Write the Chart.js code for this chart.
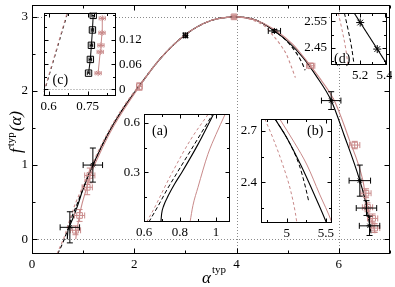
<!DOCTYPE html>
<html>
<head>
<meta charset="utf-8">
<script src="https://cdn.jsdelivr.net/npm/chart.js@4/dist/chart.umd.min.js"></script>
<style>
html, body { margin: 0; padding: 0; background: #fff; }
#wrap { position: relative; width: 395px; height: 287px; overflow: hidden; background: #fff; }
#wrap canvas { position: absolute; }
</style>
</head>
<body>
<div id="wrap">
  <canvas id="main" width="395" height="287" style="left:0;top:0"></canvas>
</div>
<script>
// ---- main panel data (alpha, f) ----
const blackSolidA = [0.69, 0.70, 0.75, 0.81, 0.90, 0.985, 1.19, 1.5, 1.8, 2.1, 2.5, 3.0, 3.5, 4.0, 4.4, 4.74, 5.0, 5.3, 5.55, 5.85, 6.1, 6.41, 6.54, 6.6, 6.63];
const blackSolidF = [0.0, 0.1, 0.2, 0.3, 0.47, 0.65, 1.0, 1.44, 1.78, 2.07, 2.43, 2.76, 2.95, 3.0, 2.95, 2.81, 2.67, 2.45, 2.21, 1.87, 1.41, 0.79, 0.45, 0.2, 0.08];
const blackDashA = [0.5, 0.57, 0.63, 0.7, 0.78, 0.88, 0.98, 1.19, 1.5, 1.8, 2.1, 2.5, 3.0, 3.5, 4.0, 4.4, 4.74, 5.0, 5.16, 5.28, 5.34];
const blackDashF = [-0.2, -0.1, 0.0, 0.13, 0.3, 0.47, 0.65, 1.0, 1.44, 1.78, 2.07, 2.43, 2.76, 2.95, 3.0, 2.95, 2.81, 2.66, 2.52, 2.38, 2.28];
const pinkDashA = [0.49, 0.55, 0.615, 0.665, 0.71, 0.757, 0.86, 0.955, 1.17, 1.5, 1.8, 2.1, 2.5, 3.0, 3.5, 4.0, 4.3, 4.56, 4.7, 4.85, 4.97, 5.07, 5.15];
const pinkDashF = [-0.2, -0.1, 0.0, 0.1, 0.2, 0.3, 0.5, 0.65, 1.0, 1.46, 1.8, 2.08, 2.43, 2.76, 2.95, 3.0, 2.96, 2.87, 2.76, 2.63, 2.5, 2.33, 2.18];
const pinkSolidA = [0.856, 0.872, 0.9, 0.955, 1.05, 1.13, 1.3, 1.6, 2.1, 2.5, 3.0, 3.5, 4.0, 4.4, 4.8, 5.1, 5.4, 5.65, 5.91, 6.2, 6.47, 6.56, 6.66, 6.71];
const pinkSolidF = [0.0, 0.1, 0.21, 0.41, 0.65, 0.84, 1.12, 1.53, 2.06, 2.43, 2.76, 2.95, 3.0, 2.95, 2.8, 2.63, 2.38, 2.15, 1.87, 1.35, 0.79, 0.43, 0.2, 0.08];

const blackPtA = [0.74, 1.19, 3.0, 4.74, 5.85, 6.41, 6.54, 6.6];
const blackPtF = [0.16, 1.0, 2.75, 2.81, 1.87, 0.79, 0.42, 0.18];
const blackErrA = [0.19, 0.19, 0.04, 0.12, 0.19, 0.21, 0.2, 0.2];
const blackErrF = [0.21, 0.23, 0.03, 0.02, 0.12, 0.21, 0.1, 0.13];
const pinkPtA = [0.85, 0.93, 1.08, 1.13, 2.1, 3.95, 5.45, 6.31, 6.53, 6.56, 6.66, 6.7];
const pinkPtF = [0.12, 0.32, 0.7, 0.86, 2.06, 3.0, 2.34, 1.27, 0.62, 0.43, 0.28, 0.15];
const pinkErrA = [0.1, 0.1, 0.1, 0.1, 0.05, 0.02, 0.08, 0.1, 0.1, 0.1, 0.1, 0.1];
const pinkErrF = [0.06, 0.08, 0.1, 0.1, 0.05, 0.02, 0.03, 0.05, 0.06, 0.06, 0.06, 0.06];

const mainXTicks = [0, 1, 2, 3, 4, 5, 6, 7];
const mainXLabels = [0, 2, 4, 6];
const mainYTicks = [0, 0.5, 1, 1.5, 2, 2.5, 3];
const mainYLabels = [0, 1, 2, 3];
const mainRefX = [4, 6];
const mainRefY = [0, 3];

// ---- inset (a) ----
const aBlackSolidA = [0.694, 0.698, 0.71, 0.735, 0.77, 0.81, 0.9, 0.985];
const aBlackSolidF = [0, 0.05, 0.1, 0.16, 0.23, 0.3, 0.47, 0.65];
const aBlackDashA = [0.627, 0.68, 0.73, 0.785, 0.88, 0.98];
const aBlackDashF = [0, 0.1, 0.2, 0.3, 0.47, 0.65];
const aPinkDashA = [0.615, 0.665, 0.71, 0.757, 0.86, 0.955];
const aPinkDashF = [0, 0.1, 0.2, 0.3, 0.5, 0.65];
const aPinkSolidA = [0.856, 0.872, 0.9, 0.955, 1.0, 1.05];
const aPinkSolidF = [0, 0.1, 0.21, 0.41, 0.53, 0.65];
const aXTicks = [0.6, 0.7, 0.8, 0.9, 1.0];
const aXLabels = [0.6, 0.8, 1];
const aYTicks = [0.15, 0.3, 0.45, 0.6];
const aYLabels = [0.3, 0.6];

// ---- inset (b) ----
const bPinkDashA = [4.72, 4.83, 4.95, 5.05, 5.11, 5.13];
const bPinkDashF = [2.77, 2.65, 2.5, 2.35, 2.22, 2.16];
const bBlackSolidA = [4.85, 5.0, 5.18, 5.35, 5.51, 5.55];
const bBlackSolidF = [2.77, 2.66, 2.5, 2.33, 2.16, 2.11];
const bBlackDashA = [4.85, 5.0, 5.16, 5.24, 5.28];
const bBlackDashF = [2.77, 2.66, 2.5, 2.37, 2.29];
const bPinkSolidA = [4.91, 5.1, 5.26, 5.42, 5.58, 5.6];
const bPinkSolidF = [2.77, 2.63, 2.5, 2.33, 2.16, 2.13];
const bXTicks = [4.75, 5, 5.25, 5.5];
const bXLabels = [5, 5.5];
const bYTicks = [2.25, 2.4, 2.55, 2.7];
const bYLabels = [2.4, 2.7];

// ---- inset (c) ----
const cBlackDashA = [0.576, 0.676];
const cBlackDashF = [-0.02, 0.19];
const cPinkDashA = [0.575, 0.674];
const cPinkDashF = [-0.02, 0.19];
const cBlackSqA = [0.754, 0.761, 0.765, 0.769, 0.772];
const cBlackSqF = [0.039, 0.072, 0.106, 0.143, 0.178];
const cBlackSqErr = [0.005, 0.005, 0.005, 0.005, 0.005];
const cPinkStarA = [0.791, 0.799, 0.802, 0.806, 0.807];
const cPinkStarF = [0.039, 0.09, 0.106, 0.136, 0.171];
const cPinkStarErr = [0.012, 0.012, 0.012, 0.012, 0.012];
const cXTicks = [0.6, 0.675, 0.75, 0.825];
const cXLabels = [0.6, 0.75];
const cYTicks = [0, 0.03, 0.06, 0.09, 0.12, 0.15, 0.18];
const cYLabels = [0, 0.06, 0.12];

// ---- inset (d) ----
const dPinkDashA = [5.02, 5.05, 5.08, 5.10];
const dPinkDashF = [2.582, 2.52, 2.45, 2.386];
const dBlackDashA = [5.07, 5.1, 5.13, 5.15];
const dBlackDashF = [2.582, 2.52, 2.45, 2.386];
const dBlackSolidA = [5.15, 5.42];
const dBlackSolidF = [2.582, 2.389];
const dStarA = [5.2, 5.34];
const dStarF = [2.546, 2.446];
const dXTicks = [5.0, 5.1, 5.2, 5.3, 5.4];
const dXLabels = [5.2, 5.4];
const dYTicks = [2.4, 2.45, 2.5, 2.55];
const dYLabels = [2.45, 2.55];

const SERIF = "'Liberation Serif', 'DejaVu Serif', serif";
const PINK = '#c98a8a';
const NONE = 'rgba(0,0,0,0)';

const pts = (xs, ys) => xs.map((x, i) => ({ x: x, y: ys[i] }));

function curve(xs, ys, color, dash, width, straight) {
    return {
        data: pts(xs, ys), showLine: true, borderColor: color, borderWidth: width || 1.1,
        borderDash: dash || [], pointRadius: 0, fill: false, clip: 0,
        cubicInterpolationMode: straight ? 'default' : 'monotone', tension: 0
    };
}

function marks(xs, ys, ex, ey, color, style, r) {
    return {
        data: pts(xs, ys), showLine: false, pointStyle: style, pointRadius: r,
        borderColor: color, backgroundColor: NONE,
        pointBorderColor: color, pointBackgroundColor: NONE, pointBorderWidth: 1,
        errX: ex, errY: ey, clip: 0
    };
}

function axis(pos, min, max, ticks, labels, size, pad) {
    return {
        type: 'linear', position: pos, min: min, max: max, bounds: 'data',
        grid: { display: false, drawTicks: false },
        border: { display: false },
        afterBuildTicks: s => { s.ticks = ticks.map(v => ({ value: v })); },
        ticks: {
            autoSkip: false, maxRotation: 0, padding: pad, color: '#000',
            font: { family: SERIF, size: 13 },
            callback: v => {
                const l = labels.find(t => Math.abs(t - v) < 1e-9);
                return l === undefined ? '' : String(l);
            }
        },
        afterFit: s => {
            if (s.isHorizontal()) s.height = size; else s.width = size;
            s.paddingLeft = s.paddingRight = s.paddingTop = s.paddingBottom = 0;
        }
    };
}

// Rahmen, Ticks nach innen, Fehlerbalken, gepunktete Linien
const deco = {
    id: 'deco',
    beforeDraw(chart) {
        const a = chart.chartArea, ctx = chart.ctx;
        ctx.save();
        ctx.fillStyle = '#fff';
        ctx.fillRect(a.left, a.top, a.right - a.left, a.bottom - a.top);
        ctx.restore();
    },
    beforeDatasetsDraw(chart, args, o) {
        const { ctx, chartArea: a, scales } = chart;
        ctx.save();
        ctx.strokeStyle = '#8a8a8a';
        ctx.lineWidth = 1;
        ctx.setLineDash([1, 2]);
        (o.refX || []).forEach(v => {
            const p = Math.round(scales.x.getPixelForValue(v)) + 0.5;
            ctx.beginPath(); ctx.moveTo(p, a.top); ctx.lineTo(p, a.bottom); ctx.stroke();
        });
        (o.refY || []).forEach(v => {
            const p = Math.round(scales.y.getPixelForValue(v)) + 0.5;
            ctx.beginPath(); ctx.moveTo(a.left, p); ctx.lineTo(a.right, p); ctx.stroke();
        });
        ctx.restore();
    },
    afterDatasetsDraw(chart, args, o) {
        const { ctx, chartArea: a, scales: { x, y } } = chart;
        const seg = (x1, y1, x2, y2) => { ctx.beginPath(); ctx.moveTo(x1, y1); ctx.lineTo(x2, y2); ctx.stroke(); };
        const cap = o.cap || 3;

        ctx.save();
        ctx.beginPath();
        ctx.rect(a.left, a.top, a.right - a.left, a.bottom - a.top);
        ctx.clip();
        ctx.lineWidth = 1;
        chart.data.datasets.forEach(ds => {
            if (!ds.errX && !ds.errY) return;
            ctx.strokeStyle = ds.borderColor;
            ds.data.forEach((p, i) => {
                const px = x.getPixelForValue(p.x), py = y.getPixelForValue(p.y);
                if (ds.errX) {
                    const l = x.getPixelForValue(p.x - ds.errX[i]), r = x.getPixelForValue(p.x + ds.errX[i]);
                    seg(l, py, r, py); seg(l, py - cap, l, py + cap); seg(r, py - cap, r, py + cap);
                }
                if (ds.errY) {
                    const t = y.getPixelForValue(p.y + ds.errY[i]), b = y.getPixelForValue(p.y - ds.errY[i]);
                    seg(px, t, px, b); seg(px - cap, t, px + cap, t); seg(px - cap, b, px + cap, b);
                }
            });
        });
        ctx.restore();

        ctx.save();
        ctx.strokeStyle = '#000';
        ctx.lineWidth = 1;
        const L = Math.round(a.left) + 0.5, R = Math.round(a.right) - 0.5;
        const T = Math.round(a.top) + 0.5, B = Math.round(a.bottom) - 0.5;
        ctx.strokeRect(L, T, R - L, B - T);
        x.ticks.forEach(t => {
            const p = Math.round(x.getPixelForValue(t.value)) + 0.5;
            const len = t.label ? o.major : o.minor;
            seg(p, B, p, B - len); seg(p, T, p, T + len);
        });
        y.ticks.forEach(t => {
            const p = Math.round(y.getPixelForValue(t.value)) + 0.5;
            const len = t.label ? o.major : o.minor;
            seg(L, p, L + len, p); seg(R, p, R - len, p);
        });
        if (o.tag) {
            ctx.fillStyle = '#000';
            ctx.font = '14px ' + SERIF;
            ctx.textBaseline = 'alphabetic';
            ctx.fillText(o.tag, a.left + o.tagPos[0], a.top + o.tagPos[1]);
        }
        ctx.restore();
    }
};

// Achsentitel des Hauptplots
const titles = {
    id: 'titles',
    afterDraw(chart) {
        const ctx = chart.ctx;
        ctx.save();
        ctx.fillStyle = '#000';
        ctx.textBaseline = 'alphabetic';
        ctx.font = 'italic 17px ' + SERIF;
        ctx.fillText('α', 202, 283);
        ctx.font = '11px ' + SERIF;
        ctx.fillText('typ', 212, 273);

        ctx.translate(21, 153);
        ctx.rotate(-Math.PI / 2);
        ctx.font = 'italic 17px ' + SERIF;
        ctx.fillText('f', 0, 0);
        let w = ctx.measureText('f').width + 2;
        ctx.font = '11px ' + SERIF;
        ctx.fillText('typ', w, -7);
        w += ctx.measureText('typ').width + 1;
        ctx.font = 'italic 17px ' + SERIF;
        ctx.fillText('(α)', w, 0);
        ctx.restore();
    }
};

function baseOptions(padding, scales, deco) {
    return {
        responsive: false, animation: false,
        layout: { padding: padding },
        scales: scales,
        plugins: { legend: { display: false }, tooltip: { enabled: false }, deco: deco }
    };
}

// Hauptdiagramm
new Chart(document.getElementById('main'), {
    type: 'scatter',
    data: {
        datasets: [
            curve(pinkSolidA, pinkSolidF, PINK, [], 1.1),
            curve(pinkDashA, pinkDashF, PINK, [3, 2.5], 1.1),
            curve(blackDashA, blackDashF, '#000', [4, 2.5], 1.1),
            curve(blackSolidA, blackSolidF, '#000', [], 1.15),
            marks(pinkPtA, pinkPtF, pinkErrA, pinkErrF, PINK, 'rect', 4),
            marks(blackPtA, blackPtF, blackErrA, blackErrF, '#000', 'star', 3)
        ]
    },
    options: baseOptions({ left: 0, top: 3, right: 2, bottom: 0 }, {
        x: axis('bottom', 0, 7, mainXTicks, mainXLabels, 33, 3),
        y: axis('left', -0.2, 3.16, mainYTicks, mainYLabels, 32, 4)
    }, { refX: mainRefX, refY: mainRefY, major: 5, minor: 3, cap: 3 }),
    plugins: [deco, titles]
});

function inset(box, m, yRight, scales, datasets, extra) {
    const cv = document.createElement('canvas');
    cv.width = m.l + (box.r - box.l) + m.r;
    cv.height = m.t + (box.b - box.t) + m.b;
    cv.style.left = (box.l - m.l) + 'px';
    cv.style.top = (box.t - m.t) + 'px';
    document.getElementById('wrap').appendChild(cv);
    const padding = yRight ? { left: m.l, top: m.t, right: 0, bottom: 0 } : { left: 0, top: m.t, right: m.r, bottom: 0 };
    new Chart(cv, {
        type: 'scatter',
        data: { datasets: datasets },
        options: baseOptions(padding, scales, Object.assign({ major: 4, minor: 2.5, cap: 2 }, extra)),
        plugins: [deco]
    });
}

// (a)
inset({ l: 144, t: 114, r: 230, b: 222 }, { l: 26, t: 2, r: 4, b: 18 }, false, {
    x: axis('bottom', 0.6, 1.078, aXTicks, aXLabels, 18, 3),
    y: axis('left', 0, 0.654, aYTicks, aYLabels, 26, 4)
}, [
    curve(aPinkSolidA, aPinkSolidF, PINK, [], 1.0),
    curve(aPinkDashA, aPinkDashF, PINK, [3, 2.5], 1.0),
    curve(aBlackDashA, aBlackDashF, '#000', [4, 2.5], 1.0),
    curve(aBlackSolidA, aBlackSolidF, '#000', [], 1.1)
], { tag: '(a)', tagPos: [8, 21] });

// (b)
inset({ l: 261, t: 119, r: 332, b: 223 }, { l: 26, t: 2, r: 4, b: 18 }, false, {
    x: axis('bottom', 4.67, 5.58, bXTicks, bXLabels, 18, 3),
    y: axis('left', 2.16, 2.77, bYTicks, bYLabels, 26, 4)
}, [
    curve(bPinkSolidA, bPinkSolidF, PINK, [], 1.0),
    curve(bPinkDashA, bPinkDashF, PINK, [3, 2.5], 1.0),
    curve(bBlackDashA, bBlackDashF, '#000', [4, 2.5], 1.0),
    curve(bBlackSolidA, bBlackSolidF, '#000', [], 1.1)
], { tag: '(b)', tagPos: [46, 16] });

// (c)
inset({ l: 42, t: 9, r: 116, b: 96 }, { l: 4, t: 2, r: 26, b: 18 }, true, {
    x: axis('bottom', 0.58, 0.86, cXTicks, cXLabels, 18, 3),
    y: axis('right', -0.016, 0.185, cYTicks, cYLabels, 26, 3)
}, [
    curve(cPinkDashA, cPinkDashF, PINK, [3, 3], 1.0, true),
    curve(cBlackDashA, cBlackDashF, '#000', [3, 3], 1.0, true),
    curve(cPinkStarA, cPinkStarF, PINK, [], 1.0, true),
    marks(cPinkStarA, cPinkStarF, cPinkStarErr, null, PINK, 'star', 3),
    curve(cBlackSqA, cBlackSqF, '#000', [], 1.0, true),
    marks(cBlackSqA, cBlackSqF, cBlackSqErr, null, '#000', 'rect', 4.5)
], { refY: [0], tag: '(c)', tagPos: [9, 71] });

// (d)
inset({ l: 331, t: 10, r: 388, b: 65 }, { l: 30, t: 2, r: 4, b: 18 }, false, {
    x: axis('bottom', 4.96, 5.42, dXTicks, dXLabels, 18, 3),
    y: axis('left', 2.386, 2.582, dYTicks, dYLabels, 30, 4)
}, [
    curve(dPinkDashA, dPinkDashF, PINK, [3, 2.5], 1.0),
    curve(dBlackDashA, dBlackDashF, '#000', [4, 2.5], 1.0),
    curve(dBlackSolidA, dBlackSolidF, '#000', [], 1.1, true),
    marks(dStarA, dStarF, null, null, '#000', 'star', 4)
], { tag: '(d)', tagPos: [3, 50] });
</script>
</body>
</html>
